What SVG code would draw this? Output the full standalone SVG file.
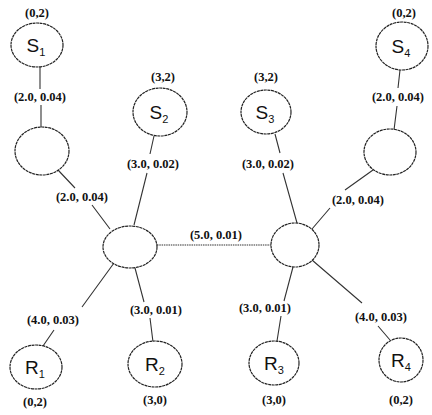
<svg xmlns="http://www.w3.org/2000/svg" width="432" height="415" viewBox="0 0 432 415">
<style>
.n{fill:#fff;stroke:#222;stroke-width:1.2;stroke-dasharray:3 0.6}
.e{stroke:#333;stroke-width:1.1;fill:none}
.d{stroke:#333;stroke-width:1.1;stroke-dasharray:1.5 0.8;fill:none}
.l{font-family:"Liberation Serif",serif;font-weight:bold;font-size:12.5px;fill:#111;text-anchor:middle}
.t{font-family:"Liberation Sans",sans-serif;font-size:19px;fill:#111;text-anchor:middle}
.s{font-size:11px}
</style>
<rect width="432" height="415" fill="#fff"/>
<g id="connectors">
<path class="e" d="M40,67L40,89M41,105L41,128"/>
<path class="e" d="M58,170L75,188M92,205L110,229"/>
<path class="e" d="M154,136L150,154M147,173L134,225"/>
<path class="d" d="M157,245L271,245"/>
<path class="e" d="M114,263L82,307M54,330L43,346"/>
<path class="e" d="M135,268L144,302M150,318L153,342"/>
<path class="e" d="M400,70L398,88M397,106L394,130"/>
<path class="e" d="M373,170L345,190M330,208L312,229"/>
<path class="e" d="M275,134L280,153M283,173L297,223"/>
<path class="e" d="M293,267L284,301M281,316L277,341"/>
<path class="e" d="M312,260L362,303M378,326L390,340"/>
<text class="l" x="40" y="101">(2.0, 0.04)</text>
<text class="l" x="82" y="201">(2.0, 0.04)</text>
<text class="l" x="153" y="168">(3.0, 0.02)</text>
<text class="l" x="216" y="239">(5.0, 0.01)</text>
<text class="l" x="53" y="324">(4.0, 0.03)</text>
<text class="l" x="156" y="314">(3.0, 0.01)</text>
<text class="l" x="398" y="101">(2.0, 0.04)</text>
<text class="l" x="358" y="204">(2.0, 0.04)</text>
<text class="l" x="268" y="168">(3.0, 0.02)</text>
<text class="l" x="265" y="312">(3.0, 0.01)</text>
<text class="l" x="381" y="321">(4.0, 0.03)</text>
</g>
<g id="S1"><ellipse class="n" cx="37" cy="45" rx="26" ry="22"/><text class="t" x="36" y="52">S<tspan class="s" dy="4">1</tspan></text><text class="l" x="37" y="17">(0,2)</text></g>
<g id="S2"><ellipse class="n" cx="160" cy="112" rx="27" ry="24"/><text class="t" x="159" y="119">S<tspan class="s" dy="4">2</tspan></text><text class="l" x="163" y="81">(3,2)</text></g>
<g id="S3"><ellipse class="n" cx="266" cy="112" rx="25" ry="22"/><text class="t" x="265" y="119">S<tspan class="s" dy="4">3</tspan></text><text class="l" x="266" y="81">(3,2)</text></g>
<g id="S4"><ellipse class="n" cx="402" cy="46" rx="26" ry="24"/><text class="t" x="401" y="53">S<tspan class="s" dy="4">4</tspan></text><text class="l" x="404" y="17">(0,2)</text></g>
<g id="A1"><ellipse class="n" cx="42" cy="151" rx="27" ry="24"/></g>
<g id="A4"><ellipse class="n" cx="390" cy="152" rx="26" ry="23"/></g>
<g id="H1"><ellipse class="n" cx="130" cy="247" rx="27" ry="21"/></g>
<g id="H2"><ellipse class="n" cx="295" cy="245" rx="24" ry="22"/></g>
<g id="R1"><ellipse class="n" cx="36" cy="367" rx="26" ry="22"/><text class="t" x="35" y="374">R<tspan class="s" dy="4">1</tspan></text><text class="l" x="35" y="406">(0,2)</text></g>
<g id="R2"><ellipse class="n" cx="155" cy="364" rx="27" ry="23"/><text class="t" x="155" y="371">R<tspan class="s" dy="4">2</tspan></text><text class="l" x="155" y="404">(3,0)</text></g>
<g id="R3"><ellipse class="n" cx="274" cy="363" rx="25" ry="22"/><text class="t" x="274" y="370">R<tspan class="s" dy="4">3</tspan></text><text class="l" x="274" y="404">(3,0)</text></g>
<g id="R4"><ellipse class="n" cx="401" cy="360" rx="22" ry="22"/><text class="t" x="401" y="367">R<tspan class="s" dy="4">4</tspan></text><text class="l" x="401" y="404">(0,2)</text></g>
</svg>
